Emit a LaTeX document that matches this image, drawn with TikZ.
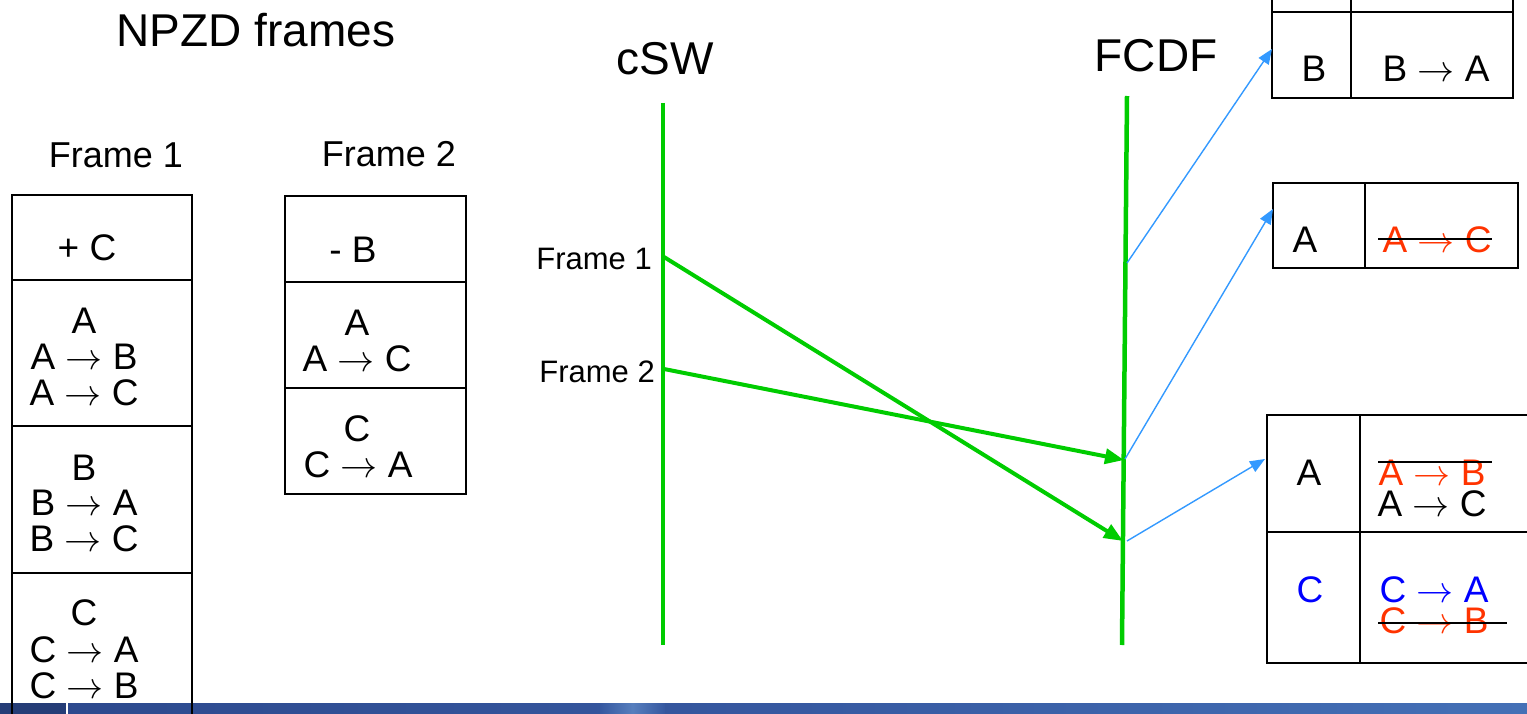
\RequirePackage{fix-cm}
\documentclass[tikz,border=0pt]{standalone}
\usepackage{fontspec}
\setmainfont{Liberation Sans}
\usetikzlibrary{arrows.meta}
\definecolor{lineGreen}{RGB}{0,204,0}
\definecolor{linkBlue}{RGB}{51,153,255}
\definecolor{dropRed}{RGB}{255,51,0}
\definecolor{keepBlue}{RGB}{0,0,255}
\definecolor{barDark}{RGB}{44,72,140}
\definecolor{barMid}{RGB}{54,88,160}
\definecolor{barLight}{RGB}{68,112,182}
\newcommand{\goesto}{\ensuremath{\rightarrow}}
\begin{document}
\begin{tikzpicture}[x=1pt,y=-1pt,
  txt/.style={inner sep=0pt, anchor=base, text height=27pt, text depth=0pt,
    font=\fontsize{37}{37}\selectfont},
  title/.style={inner sep=0pt, anchor=base, font=\fontsize{46}{46}\selectfont},
  subtitle/.style={inner sep=0pt, anchor=base, font=\fontsize{36}{36}\selectfont},
  tick/.style={inner sep=0pt, anchor=base east, font=\fontsize{31}{31}\selectfont},
  cell/.style={draw=black, line width=2.4pt, line cap=rect, line join=miter},
  timeline/.style={draw=lineGreen, line width=4.5pt},
  sendarrow/.style={draw=lineGreen, line width=4pt, -{Triangle[length=19pt,width=15pt]}},
  linkarrow/.style={draw=linkBlue, line width=1.4pt, -{Triangle[length=15pt,width=12pt]}},
  strike/.style={draw=black, line width=2pt}]
\useasboundingbox (0,0) rectangle (1527,714);
\clip (0,0) rectangle (1527,714);

% footer band
\shade[left color=barDark, right color=barLight, middle color=barMid] (0,703) rectangle (1527,714);
\fill[barDark!85!black] (0,703) rectangle (66,714);
\fill[white] (66,703) rectangle (68,714);
\shade[left color=barMid, right color=barMid, middle color=barLight!90!white] (600,703) rectangle (665,714);

% headings
\node[title] (npzd) at (256,47) {NPZD frames};
\node[title] (csw) at (665,75) {cSW};
\node[title] (fcdf) at (1156,72) {FCDF};
\node[subtitle] (t1) at (116,168) {Frame 1};
\node[subtitle] (t2) at (389,167) {Frame 2};

% frame 1 table
\draw[cell] (12,720) -- (12,195) -- (192,195) -- (192,720);
\draw[cell] (12,280) -- (192,280);
\draw[cell] (12,426) -- (192,426);
\draw[cell] (12,573) -- (192,573);
\node[txt] (f1h) at (87,261) {+ C};
\node[txt] (f1a) at (84,334) {A};
\node[txt] (f1ab) at (84,369) {A \goesto{} B};
\node[txt] (f1ac) at (84,405) {A \goesto{} C};
\node[txt] (f1b) at (84,480) {B};
\node[txt] (f1ba) at (84,515) {B \goesto{} A};
\node[txt] (f1bc) at (84,551) {B \goesto{} C};
\node[txt] (f1c) at (84,625) {C};
\node[txt] (f1ca) at (84,662) {C \goesto{} A};
\node[txt] (f1cb) at (84,698) {C \goesto{} B};

% frame 2 table
\draw[cell] (285,196) rectangle (466,494);
\draw[cell] (285,282) -- (466,282);
\draw[cell] (285,388) -- (466,388);
\node[txt] (f2h) at (353,263) {- B};
\node[txt] (f2a) at (357,335) {A};
\node[txt] (f2ac) at (357,371) {A \goesto{} C};
\node[txt] (f2c) at (357,441) {C};
\node[txt] (f2ca) at (358,477) {C \goesto{} A};

% time lines
\coordinate (cswTop) at (663,103);
\coordinate (cswBot) at (663,645);
\coordinate (fcdfTop) at (1127,96);
\coordinate (fcdfBot) at (1122,645);
\draw[timeline] (cswTop) -- (cswBot);
\draw[timeline] (fcdfTop) -- (fcdfBot);
\node[tick] (lab1) at (652,270) {Frame 1};
\node[tick] (lab2) at (655,382) {Frame 2};

% frames sent from cSW to FCDF
\coordinate (send1) at (664,257);
\coordinate (send2) at (664,369);
\coordinate (recv1) at (1123,541);
\coordinate (recv2) at (1124,460);
\draw[sendarrow] (send1) -- (recv1);
\draw[sendarrow] (send2) -- (recv2);

% state tables on the FCDF side
\draw[cell] (1272,-5) -- (1272,98) -- (1513,98) -- (1513,-5);
\draw[cell] (1272,12) -- (1513,12);
\draw[cell] (1351,-5) -- (1351,98);
\node[txt] (s1n) at (1314,82) {B};
\node[txt] (s1r) at (1436,82) {B \goesto{} A};

\draw[cell] (1273,183) rectangle (1518,268);
\draw[cell] (1365,183) -- (1365,268);
\node[txt] (s2n) at (1305,253) {A};
\node[txt, text=dropRed] (s2r) at (1437,253) {A \goesto{} C};
\draw[strike] (1378,239) -- (1492,239);

\draw[cell] (1535,415) -- (1267,415) -- (1267,663) -- (1535,663);
\draw[cell] (1267,532) -- (1535,532);
\draw[cell] (1360,415) -- (1360,663);
\node[txt] (s3a) at (1309,485) {A};
\node[txt, text=dropRed] (s3ab) at (1432,485) {A \goesto{} B};
\draw[strike] (1378,462) -- (1492,462);
\node[txt] (s3ac) at (1432,516) {A \goesto{} C};
\node[txt, text=keepBlue] (s3c) at (1310,602) {C};
\node[txt, text=keepBlue] (s3ca) at (1434,602) {C \goesto{} A};
\node[txt, text=dropRed] (s3cb) at (1434,633) {C \goesto{} B};
\draw[strike] (1378,623) -- (1507,623);

% links from FCDF states to their tables
\coordinate (st1) at (1127,263);
\coordinate (st2) at (1125,459);
\coordinate (st3) at (1127,541);
\coordinate (tb1) at (1272,49);
\coordinate (tb2) at (1273,209);
\coordinate (tb3) at (1265,459);
\draw[linkarrow] (st1) -- (tb1);
\draw[linkarrow] (st2) -- (tb2);
\draw[linkarrow] (st3) -- (tb3);
\end{tikzpicture}
\end{document}
